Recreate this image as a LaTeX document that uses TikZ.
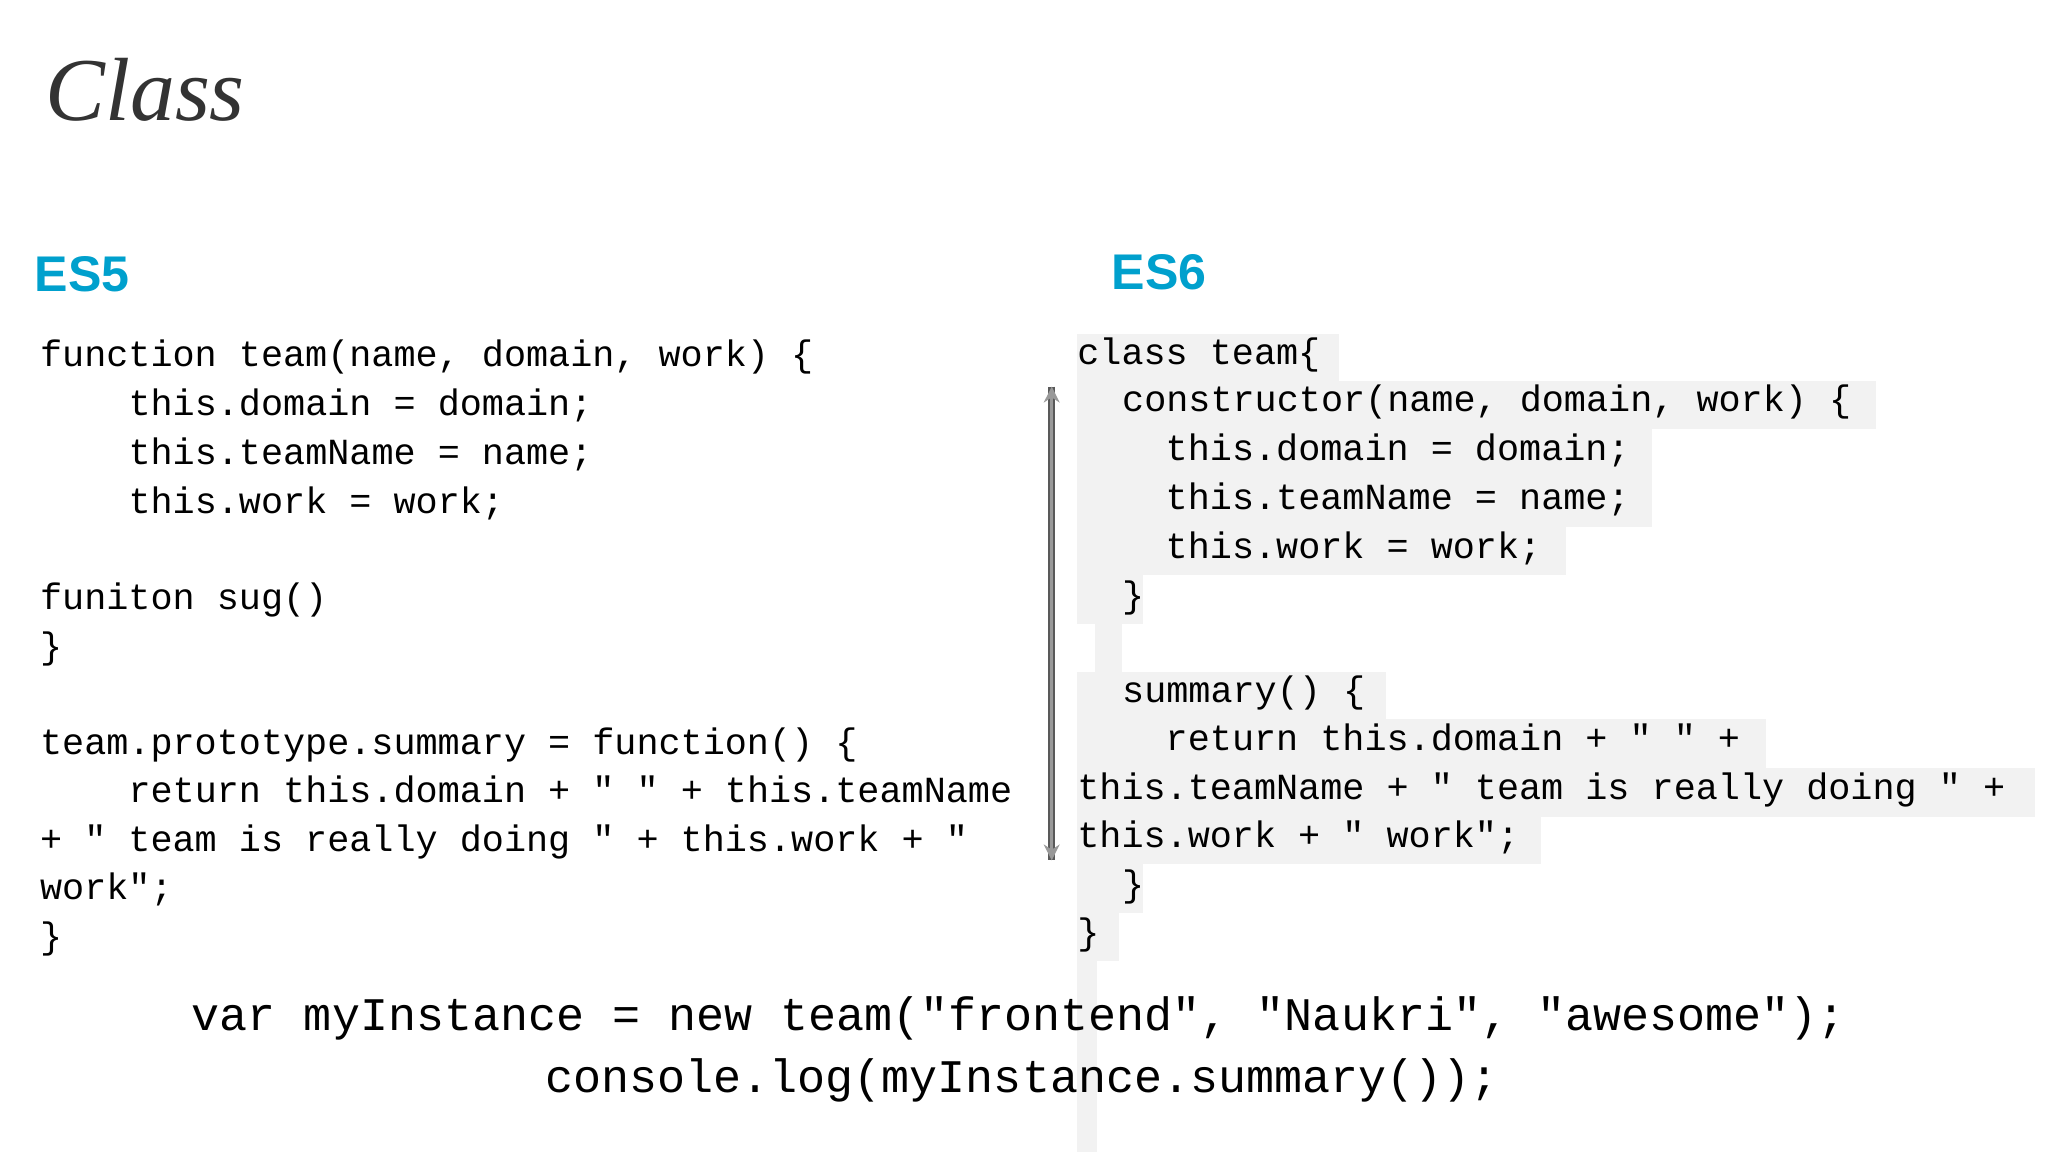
\documentclass[tikz,border=0pt]{standalone}
\usetikzlibrary{arrows.meta}
\usepackage{fontspec}
\setmainfont{Liberation Serif}
\newfontfamily\codefont{Liberation Mono}
\newfontfamily\hfont{Liberation Sans}
\begin{document}
\begin{tikzpicture}[x=0.5pt,y=-0.5pt,
  code/.style={font=\codefont\fontsize{13.95pt}{16pt}\selectfont, anchor=west, inner sep=0pt, text height=0.72em, text depth=0.22em},
  big/.style={font=\codefont\fontsize{17.7pt}{20pt}\selectfont, anchor=west, inner sep=0pt, text height=0.72em, text depth=0.22em},
  esh/.style={font=\hfont\bfseries\fontsize{19pt}{22pt}\selectfont, text=esblue, anchor=west, inner sep=0pt},
  hl/.style={fill=black!5, draw=none}]
\definecolor{esblue}{RGB}{0,160,205}
\useasboundingbox (0,0) rectangle (1552,873);
\fill[white] (0,0) rectangle (1552,873);
\node[font=\itshape\fontsize{34pt}{36pt}\selectfont, text=black!80, anchor=west, inner sep=0] (title) at (34,68) {Class};
\node[esh] (es5) at (26,208) {ES5};
\node[esh] (es6) at (842,206) {ES6};
% highlights
\fill[hl] (816,253) rectangle (1015,289);
\fill[hl] (816,289) rectangle (1422,325);
\fill[hl] (816,325) rectangle (1252,362);
\fill[hl] (816,362) rectangle (1252,399);
\fill[hl] (816,399) rectangle (1187,436);
\fill[hl] (816,436) rectangle (866,473);
\fill[hl] (830,473) rectangle (850,509);
\fill[hl] (816,509) rectangle (1050,545);
\fill[hl] (816,545) rectangle (1338,582);
\fill[hl] (816,582) rectangle (1542,619);
\fill[hl] (816,619) rectangle (1168,655);
\fill[hl] (816,655) rectangle (866,692);
\fill[hl] (816,692) rectangle (848,728);
\fill[hl] (816,728) rectangle (831,873);
% ES5 code
\node[code] (l1) at (30,273) {function team(name, domain, work) \{};
\node[code] (l2) at (97,310) {this.domain = domain;};
\node[code] (l3) at (97,347) {this.teamName = name;};
\node[code] (l4) at (97,384) {this.work = work;};
\node[code] (l5) at (30,457) {funiton sug()};
\node[code] (l6) at (30,494) {\}};
\node[code] (l7) at (30,567) {team.prototype.summary = function() \{};
\node[code] (l8) at (97,603) {return this.domain + " " + this.teamName};
\node[code] (l9) at (30,640) {+ " team is really doing " + this.work + "};
\node[code] (l10) at (30,677) {work";};
\node[code] (l11) at (30,714) {\}};
% ES6 code
\node[code] (r1) at (816,271) {class team\{};
\node[code] (r2) at (850,307) {constructor(name, domain, work) \{};
\node[code] (r3) at (883,344) {this.domain = domain;};
\node[code] (r4) at (883,381) {this.teamName = name;};
\node[code] (r5) at (883,418) {this.work = work;};
\node[code] (r6) at (850,455) {\}};
\node[code] (r7) at (850,527) {summary() \{};
\node[code] (r8) at (883,564) {return this.domain + " " +};
\node[code] (r9) at (816,601) {this.teamName + " team is really doing " +};
\node[code] (r10) at (816,637) {this.work + " work";};
\node[code] (r11) at (850,674) {\}};
\node[code] (r12) at (816,711) {\}};
% arrow
\coordinate (atop) at (797,293);
\coordinate (abot) at (797,652);
\draw[black!65, line width=2.6pt] (atop) -- (abot);
\draw[black!40, line width=1.2pt, {Stealth[length=6pt,width=6pt]}-{Stealth[length=6pt,width=6pt]}] (atop) -- (abot);
% bottom
\node[big] (b1) at (145,776) {var myInstance = new team("frontend", "Naukri", "awesome");};
\node[big] (b2) at (413,823) {console.log(myInstance.summary());};
\end{tikzpicture}
\end{document}
